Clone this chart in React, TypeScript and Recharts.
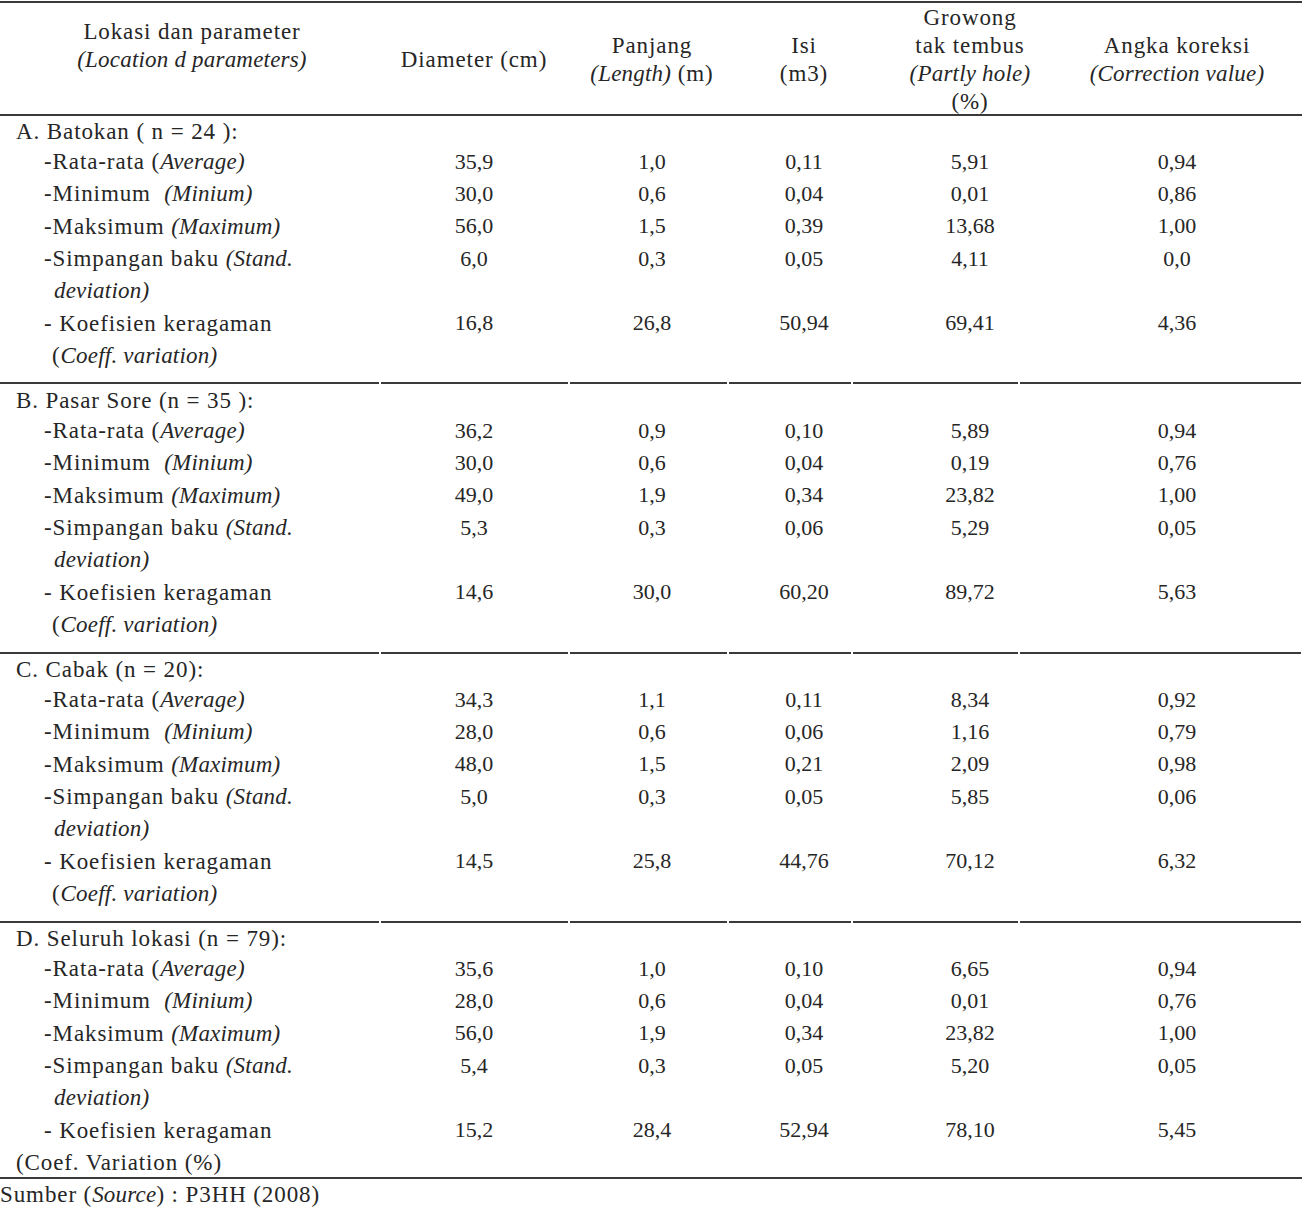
import React from 'react';
import { ScatterChart, Scatter, XAxis, YAxis, ReferenceLine } from 'recharts';

const sectionTitles = [
  'A. Batokan ( n = 24 ):',
  'B. Pasar Sore (n = 35 ):',
  'C. Cabak (n = 20):',
  'D. Seluruh lokasi (n = 79):',
];

// text in {braces} is italic
const paramLabels = [
  ['-Rata-rata ({Average)}'],
  ['-Minimum  {(Minium)}'],
  ['-Maksimum {(Maximum)}'],
  ['-Simpangan baku {(Stand.}', '{deviation)}'],
  ['- Koefisien keragaman', '({Coeff. variation)}'],
];
const lastCoefNote = '(Coef. Variation (%)';

const labelHeader = ['Lokasi dan parameter', '{(Location d parameters)}'];
const columnHeaders = [
  ['Diameter (cm)'],
  ['Panjang', '{(Length)} (m)'],
  ['Isi', '(m3)'],
  ['Growong', 'tak tembus', '{(Partly hole)}', '(%)'],
  ['Angka koreksi', '{(Correction value)}'],
];

const diameter = ['35,9', '30,0', '56,0', '6,0', '16,8', '36,2', '30,0', '49,0', '5,3', '14,6', '34,3', '28,0', '48,0', '5,0', '14,5', '35,6', '28,0', '56,0', '5,4', '15,2'];
const panjang = ['1,0', '0,6', '1,5', '0,3', '26,8', '0,9', '0,6', '1,9', '0,3', '30,0', '1,1', '0,6', '1,5', '0,3', '25,8', '1,0', '0,6', '1,9', '0,3', '28,4'];
const isi = ['0,11', '0,04', '0,39', '0,05', '50,94', '0,10', '0,04', '0,34', '0,06', '60,20', '0,11', '0,06', '0,21', '0,05', '44,76', '0,10', '0,04', '0,34', '0,05', '52,94'];
const growong = ['5,91', '0,01', '13,68', '4,11', '69,41', '5,89', '0,19', '23,82', '5,29', '89,72', '8,34', '1,16', '2,09', '5,85', '70,12', '6,65', '0,01', '23,82', '5,20', '78,10'];
const koreksi = ['0,94', '0,86', '1,00', '0,0', '4,36', '0,94', '0,76', '1,00', '0,05', '5,63', '0,92', '0,79', '0,98', '0,06', '6,32', '0,94', '0,76', '1,00', '0,05', '5,45'];
const sourceNote = 'Sumber ({Source}) : P3HH (2008)';

// ---- layout ----
const W = 1302;
const H = 1208;
const COL_X = [474, 652, 804, 970, 1177];
const COL_EDGES = [0, 380, 569, 728, 852, 1019, 1302];
const TEXT = '#262626';
const RULE = '#3a3a3a';
const FONT = '"Liberation Serif", "DejaVu Serif", serif';

const sectionY = (s: number) => 131 + s * 269;
const lineY = (s: number, k: number) => sectionY(s) + 30 + (k - 1) * 32.3;
// value row -> text line inside a section (avg, min, max, sd, coef)
const valueLines = [1, 2, 3, 4, 6];

type Pt = { x: number; y: number; text: string; anchor: string; wide?: boolean };

const headerPts: Pt[] = [];
labelHeader.forEach((t, i) => headerPts.push({ x: 192, y: 31 + i * 28, text: t, anchor: 'middle', wide: true }));
columnHeaders.forEach((lines, c) => {
  const start = 59 - (lines.length - 1) * 14;
  lines.forEach((t, i) =>
    headerPts.push({ x: COL_X[c], y: start + i * 28, text: t, anchor: 'middle', wide: true }),
  );
});

const labelPts: Pt[] = [];
sectionTitles.forEach((title, s) => {
  labelPts.push({ x: 16, y: sectionY(s), text: title, anchor: 'start', wide: true });
  let k = 1;
  paramLabels.forEach((lines, p) => {
    lines.forEach((t, i) => {
      let x = 44;
      let text = t;
      if (i > 0) x = p === 3 ? 54 : 52;
      if (i > 0 && p === 4 && s === 3) {
        x = 16;
        text = lastCoefNote;
      }
      labelPts.push({ x, y: lineY(s, k), text, anchor: 'start', wide: true });
      k++;
    });
  });
});
labelPts.push({ x: 0, y: 1194, text: sourceNote, anchor: 'start', wide: true });

const valuePts = (values: string[], c: number): Pt[] =>
  values.map((v, i) => ({
    x: COL_X[c],
    y: lineY(Math.floor(i / 5), valueLines[i % 5]),
    text: v,
    anchor: 'middle',
  }));

const columns = [diameter, panjang, isi, growong, koreksi];

const TextMark = (props: any) => {
  const { cx, cy, payload } = props;
  const parts: string[] = payload.text.split(/(\{[^}]*\})/).filter(Boolean);
  const roman = payload.wide ? 0.9 : 0;
  const italic = payload.wide ? 0.2 : 0;
  return (
    <text
      x={cx}
      y={cy}
      dy="0.35em"
      textAnchor={payload.anchor}
      fill={TEXT}
      fontFamily={FONT}
      fontSize={payload.wide ? 23 : 22}
      style={{ whiteSpace: 'pre' }}
    >
      {parts.map((p, i) =>
        p.startsWith('{') ? (
          <tspan key={i} fontStyle="italic" letterSpacing={italic}>
            {p.slice(1, -1)}
          </tspan>
        ) : (
          <tspan key={i} letterSpacing={roman}>
            {p}
          </tspan>
        ),
      )}
    </text>
  );
};

const ruleYs = [sectionY(0) + 252, sectionY(1) + 253, sectionY(2) + 253];

export default function App() {
  return (
    <div style={{ position: 'absolute', left: 0, top: 0, background: '#fff' }}>
      <ScatterChart width={W} height={H} margin={{ top: 0, right: 0, bottom: 0, left: 0 }}>
        <XAxis type="number" dataKey="x" domain={[0, W]} hide />
        <YAxis type="number" dataKey="y" domain={[0, H]} reversed hide />
        <ReferenceLine y={2} stroke={RULE} strokeWidth={2} />
        <ReferenceLine y={115} stroke={RULE} strokeWidth={2} />
        {ruleYs.map((y) =>
          COL_EDGES.slice(0, -1).map((x0, j) => (
            <ReferenceLine
              key={`${y}-${j}`}
              segment={[
                { x: x0 + (j ? 1 : 0), y },
                { x: COL_EDGES[j + 1] - 1, y },
              ]}
              stroke={RULE}
              strokeWidth={2}
            />
          )),
        )}
        <ReferenceLine y={1178} stroke={RULE} strokeWidth={2} />
        <Scatter data={headerPts} shape={TextMark} isAnimationActive={false} />
        <Scatter data={labelPts} shape={TextMark} isAnimationActive={false} />
        {columns.map((vals, c) => (
          <Scatter key={c} data={valuePts(vals, c)} shape={TextMark} isAnimationActive={false} />
        ))}
      </ScatterChart>
    </div>
  );
}
